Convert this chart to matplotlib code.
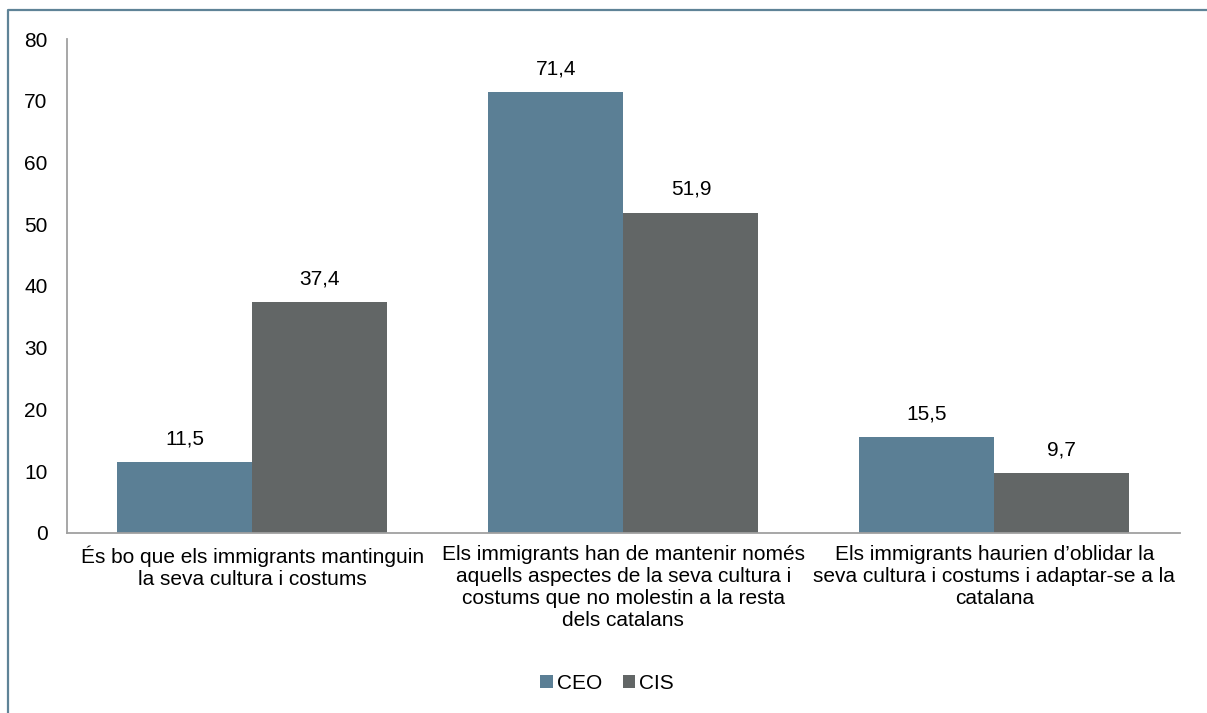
import matplotlib.pyplot as plt
import numpy as np
from matplotlib.lines import Line2D

# Dades
categories = [
    "És bo que els immigrants mantinguin\nla seva cultura i costums",
    "Els immigrants han de mantenir només\naquells aspectes de la seva cultura i\ncostums que no molestin a la resta\ndels catalans",
    "Els immigrants haurien d’oblidar la\nseva cultura i costums i adaptar-se a la\ncatalana",
]
ceo = [11.5, 71.4, 15.5]
cis = [37.4, 51.9, 9.7]
series_names = ["CEO", "CIS"]
colors = ["#5B7F95", "#626666"]

plt.rcParams['font.family'] = ['Liberation Sans', 'DejaVu Sans']

fig = plt.figure(figsize=(12.07, 7.13), dpi=100)
ax = fig.add_axes([0.0555, 0.2525, 0.922, 0.6928])

# Marc exterior (només es veuen les vores superior i esquerra)
bx, by = 8 / 1207, 1 - 10 / 713
fig.lines.append(Line2D([bx, bx, 1.0], [0.0, by, by], transform=fig.transFigure,
                        color="#5F8397", linewidth=1.6))

x = np.arange(len(categories))
w = 0.364
b1 = ax.bar(x - w / 2, ceo, w, color=colors[0], label=series_names[0])
b2 = ax.bar(x + w / 2, cis, w, color=colors[1], label=series_names[1])

for bars, vals in ((b1, ceo), (b2, cis)):
    for r, v in zip(bars, vals):
        ax.text(r.get_x() + r.get_width() / 2, v + 2.2, f"{v:.1f}".replace(".", ","),
                ha="center", va="bottom", fontsize=15)

ax.set_xlim(-0.5, 2.5)
ax.set_ylim(0, 80)
ax.set_yticks(range(0, 81, 10))
ax.set_xticks(x)
ax.set_xticklabels(categories, fontsize=15, linespacing=1.2)
ax.tick_params(axis="y", labelsize=15, length=0, pad=14)
ax.tick_params(axis="x", length=0, pad=9)

for s in ("top", "right"):
    ax.spines[s].set_visible(False)
for s in ("left", "bottom"):
    ax.spines[s].set_color("#A0A0A0")
    ax.spines[s].set_linewidth(1.3)

fig.legend(loc="center", bbox_to_anchor=(0.503, 0.042), ncol=2, frameon=False,
           fontsize=15, handlelength=0.6, handleheight=0.6, handletextpad=0.2,
           columnspacing=1.0)

fig.savefig("out.png", dpi=100)
